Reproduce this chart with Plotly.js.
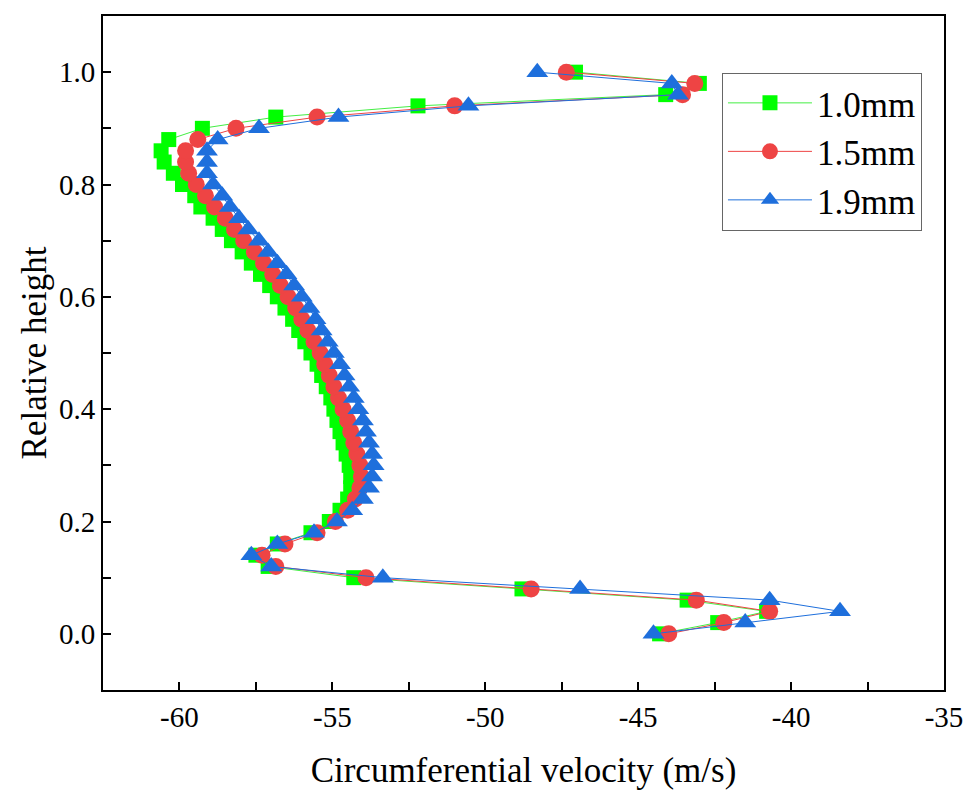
<!DOCTYPE html>
<html>
<head>
<meta charset="utf-8">
<script src="https://cdn.plot.ly/plotly-3.0.1.min.js"></script>
<style>
  html, body { margin: 0; padding: 0; background: #fff; }
  #chart { width: 979px; height: 803px; }
</style>
</head>
<body>
<div id="chart"></div>
<script>
// relative height, same for the three gaps
var relHeight = [0.00, 0.02, 0.04, 0.06, 0.08, 0.10, 0.12, 0.14, 0.16, 0.18,
                 0.20, 0.22, 0.24, 0.26, 0.28, 0.30, 0.32, 0.34, 0.36, 0.38,
                 0.40, 0.42, 0.44, 0.46, 0.48, 0.50, 0.52, 0.54, 0.56, 0.58,
                 0.60, 0.62, 0.64, 0.66, 0.68, 0.70, 0.72, 0.74, 0.76, 0.78,
                 0.80, 0.82, 0.84, 0.86, 0.88, 0.90, 0.92, 0.94, 0.96, 0.98, 1.00];

// circumferential velocity (m/s)
var vel10 = [-44.3, -42.4, -40.8, -43.4, -48.8, -54.3, -57.1, -57.5, -56.8, -55.7,
             -55.1, -54.75, -54.5, -54.4, -54.4, -54.45, -54.55, -54.65, -54.75, -54.85,
             -54.95, -55.05, -55.2, -55.35, -55.5, -55.7, -55.9, -56.1, -56.3, -56.55,
             -56.8, -57.05, -57.35, -57.65, -57.95, -58.3, -58.6, -58.9, -59.3, -59.5,
             -59.9, -60.2, -60.5, -60.6, -60.35, -59.25, -56.85, -52.2, -44.1, -43.0, -47.05];

var vel15 = [-44.0, -42.2, -40.7, -43.1, -48.5, -53.9, -56.85, -57.3, -56.55, -55.5,
             -54.9, -54.5, -54.25, -54.1, -54.05, -54.1, -54.2, -54.3, -54.4, -54.5,
             -54.65, -54.8, -54.95, -55.1, -55.25, -55.4, -55.6, -55.8, -56.0, -56.2,
             -56.45, -56.7, -56.95, -57.25, -57.55, -57.9, -58.2, -58.5, -58.85, -59.15,
             -59.45, -59.7, -59.8, -59.8, -59.4, -58.15, -55.5, -51.0, -43.55, -43.15, -47.35];

var vel19 = [-44.5, -41.5, -38.4, -40.7, -46.9, -53.35, -57.0, -57.65, -56.8, -55.6,
             -54.85, -54.35, -54.0, -53.8, -53.7, -53.65, -53.7, -53.8, -53.9, -54.0,
             -54.15, -54.3, -54.45, -54.6, -54.75, -54.95, -55.15, -55.35, -55.55, -55.75,
             -56.0, -56.25, -56.5, -56.8, -57.1, -57.4, -57.75, -58.05, -58.35, -58.6,
             -58.9, -59.1, -59.1, -59.1, -58.75, -57.4, -54.8, -50.55, -43.7, -43.9, -48.3];

var seriesNames = ['1.0mm', '1.5mm', '1.9mm'];

var xTickVals = [-60, -55, -50, -45, -40, -35];
var xTickText = ['-60', '-55', '-50', '-45', '-40', '-35'];

var fontFam = 'Liberation Serif';

var data = [
  {
    x: vel10, y: relHeight, name: seriesNames[0],
    type: 'scatter', mode: 'lines+markers',
    line: {color: '#44ee44', width: 1},
    marker: {symbol: 'square', size: 15, color: '#00ff00'}
  },
  {
    x: vel15, y: relHeight, name: seriesNames[1],
    type: 'scatter', mode: 'lines+markers',
    line: {color: '#ee4444', width: 1},
    marker: {symbol: 'circle', size: 17, color: '#ee4444'}
  },
  {
    x: vel19, y: relHeight, name: seriesNames[2],
    type: 'scatter', mode: 'lines+markers',
    line: {color: '#1e6fdc', width: 1},
    marker: {symbol: 'triangle-up', size: 19, color: '#1e6fdc'}
  }
];

var layout = {
  width: 979,
  height: 803,
  paper_bgcolor: '#fff',
  plot_bgcolor: '#fff',
  font: {family: fontFam, color: '#000', size: 29},
  margin: {l: 103, r: 35, t: 16, b: 113},
  showlegend: true,
  legend: {
    x: 0.736, y: 0.916, xanchor: 'left', yanchor: 'top',
    bordercolor: '#666', borderwidth: 1,
    font: {family: fontFam, size: 35, color: '#000'},
    tracegroupgap: 0,
    itemwidth: 84
  },
  xaxis: {
    range: [-62.5, -35],
    tickvals: xTickVals,
    ticktext: xTickText,
    ticks: 'inside', ticklen: 8, tickwidth: 2, tickcolor: '#000',
    minor: {dtick: 2.5, ticks: 'inside', ticklen: 8, tickwidth: 2, tickcolor: '#000', showgrid: false},
    showline: true, linecolor: '#000', linewidth: 2, mirror: true,
    showgrid: false, zeroline: false,
    tickfont: {family: fontFam, size: 29, color: '#000'},
    title: {text: 'Circumferential velocity (m/s)', font: {family: fontFam, size: 35, color: '#000'}, standoff: 26},
    automargin: false
  },
  yaxis: {
    range: [-0.1, 1.1],
    tick0: 0, dtick: 0.2, tickformat: '.1f',
    ticks: 'inside', ticklen: 8, tickwidth: 2, tickcolor: '#000',
    minor: {dtick: 0.1, ticks: 'inside', ticklen: 8, tickwidth: 2, tickcolor: '#000', showgrid: false},
    showline: true, linecolor: '#000', linewidth: 2, mirror: true,
    showgrid: false, zeroline: false,
    tickfont: {family: fontFam, size: 29, color: '#000'},
    title: {text: 'Relative height', font: {family: fontFam, size: 35, color: '#000'}, standoff: 2},
    automargin: false
  }
};

Plotly.newPlot('chart', data, layout, {displayModeBar: false, staticPlot: true});
</script>
</body>
</html>
